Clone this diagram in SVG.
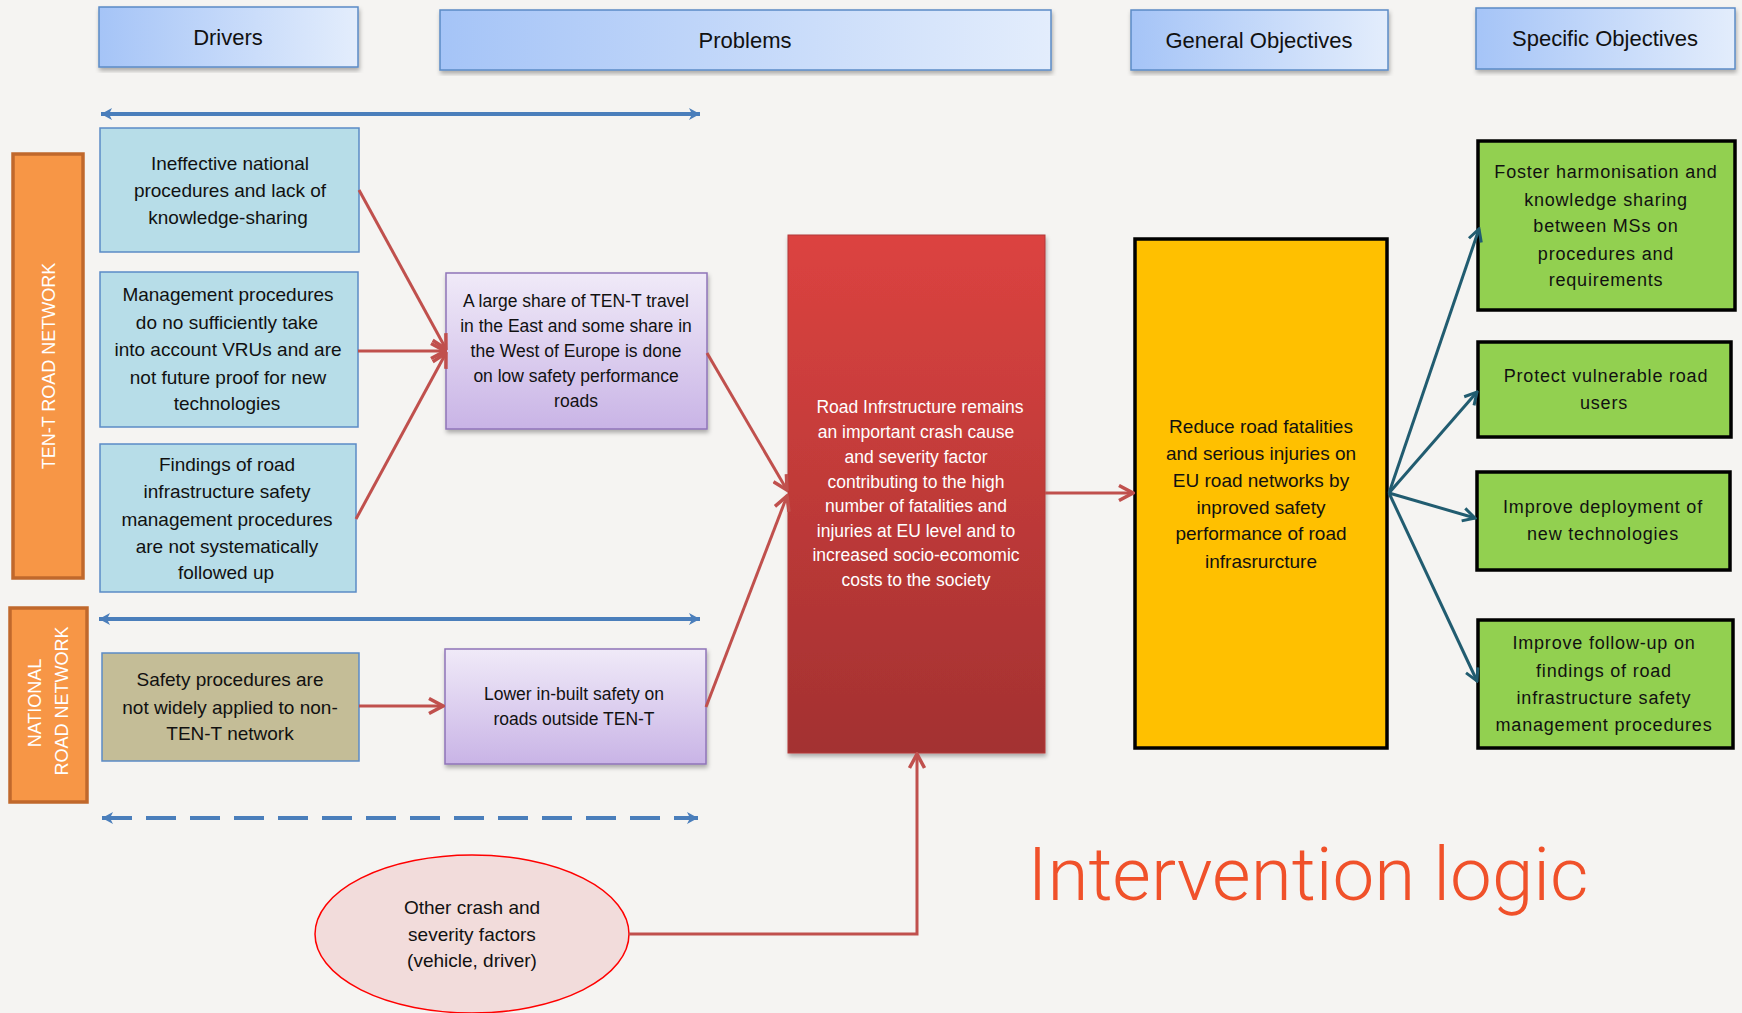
<svg xmlns="http://www.w3.org/2000/svg" width="1742" height="1013" viewBox="0 0 1742 1013">
<defs>
<style>
text{font-family:"Liberation Sans",Arial,sans-serif;text-anchor:middle;fill:#111}
.hdr{font-size:22px}
.drv{font-size:19px}
.prb{font-size:17.5px}
.red{font-size:17.5px;fill:#fff}
.yel{font-size:19px}
.grn{font-size:18px;letter-spacing:0.8px}
.vert{font-size:18px;fill:#fff}
.title{font-family:Roboto,"Liberation Sans",sans-serif;font-weight:300;font-size:74px;fill:#F0512A}
.hbox{fill:url(#gHdr);stroke:#5B8BC6;stroke-width:1.5;filter:url(#sh)}
.dbox{fill:#B7DDE8;stroke:#5B8BC6;stroke-width:1.5}
.pbox{fill:url(#gPur);stroke:#8F74B8;stroke-width:1.5;filter:url(#sh)}
.gbox{fill:#92D050;stroke:#000;stroke-width:3.5}
.obox{fill:#F79646;stroke:#C0682C;stroke-width:3.5}
.rc{fill:none;stroke:#C0504D;stroke-width:3}
.tc{fill:none;stroke:#215C70;stroke-width:3}
.bc{fill:none;stroke:#4A7EBB;stroke-width:4}
</style>
<linearGradient id="gHdr" x1="0" y1="0" x2="1" y2="0">
<stop offset="0" stop-color="#A5C4F7"/><stop offset="1" stop-color="#E3EDFC"/>
</linearGradient>
<linearGradient id="gPur" x1="0" y1="0" x2="0" y2="1">
<stop offset="0" stop-color="#F0EAF8"/><stop offset="1" stop-color="#C9B4E6"/>
</linearGradient>
<linearGradient id="gRed" x1="0" y1="0" x2="0" y2="1">
<stop offset="0" stop-color="#DC4340"/><stop offset="1" stop-color="#A33131"/>
</linearGradient>
<filter id="sh" x="-10%" y="-10%" width="120%" height="120%">
<feDropShadow dx="1" dy="3" stdDeviation="2" flood-color="#000" flood-opacity="0.3"/>
</filter>
<marker id="mR" viewBox="0 0 18 18" refX="16" refY="9" markerWidth="18" markerHeight="18" markerUnits="userSpaceOnUse" orient="auto">
<path d="M2,1.5 L16,9 L2,16.5" fill="none" stroke="#C0504D" stroke-width="3.5"/>
</marker>
<marker id="mT" viewBox="0 0 16 16" refX="14" refY="8" markerWidth="16" markerHeight="16" markerUnits="userSpaceOnUse" orient="auto">
<path d="M2,1.5 L14,8 L2,14.5" fill="none" stroke="#215C70" stroke-width="3"/>
</marker>
<marker id="mB" viewBox="0 0 12 12" refX="11" refY="6" markerWidth="12" markerHeight="12" markerUnits="userSpaceOnUse" orient="auto-start-reverse">
<path d="M0,0 L11,6 L0,12 L3,6 Z" fill="#4A7EBB"/>
</marker>
</defs>
<rect width="1742" height="1013" fill="#F5F4F2"/>

<g id="hdr-drivers"><rect class="hbox" x="99" y="7" width="259" height="60"/><text class="hdr" x="228" y="45">Drivers</text></g>
<g id="hdr-problems"><rect class="hbox" x="440" y="10" width="611" height="60"/><text class="hdr" x="745" y="48">Problems</text></g>
<g id="hdr-general"><rect class="hbox" x="1131" y="10" width="257" height="60"/><text class="hdr" x="1259" y="48">General Objectives</text></g>
<g id="hdr-specific"><rect class="hbox" x="1476" y="8" width="259" height="61"/><text class="hdr" x="1605" y="46">Specific Objectives</text></g>

<g id="lbl-tent"><rect class="obox" x="13" y="154" width="70" height="424"/><text class="vert" transform="translate(55,366) rotate(-90)">TEN-T ROAD NETWORK</text></g>
<g id="lbl-national"><rect class="obox" x="10" y="608" width="77" height="194"/><text class="vert" transform="translate(41,703) rotate(-90)">NATIONAL</text><text class="vert" transform="translate(68,701) rotate(-90)">ROAD NETWORK</text></g>

<g id="drv1"><rect class="dbox" x="100" y="128" width="259" height="124"/>
<text class="drv" x="230" y="170">Ineffective national</text><text class="drv" x="230" y="197">procedures  and lack of</text><text class="drv" x="228" y="224">knowledge-sharing</text></g>
<g id="drv2"><rect class="dbox" x="100" y="272" width="258" height="155"/>
<text class="drv" x="228" y="301">Management  procedures</text><text class="drv" x="227" y="329">do no sufficiently take</text><text class="drv" x="228" y="356">into account  VRUs and are</text><text class="drv" x="228" y="384">not  future  proof  for  new</text><text class="drv" x="227" y="410">technologies</text></g>
<g id="drv3"><rect class="dbox" x="100" y="444" width="256" height="148"/>
<text class="drv" x="227" y="471">Findings of road</text><text class="drv" x="227" y="498">infrastructure  safety</text><text class="drv" x="227" y="526">management  procedures</text><text class="drv" x="227" y="553">are not  systematically</text><text class="drv" x="226" y="579">followed up</text></g>
<g id="drv4"><rect x="102" y="653" width="257" height="108" fill="#C4BD97" stroke="#5B8BC6" stroke-width="1.5"/>
<text class="drv" x="230" y="686">Safety procedures   are</text><text class="drv" x="230" y="714">not  widely applied to non-</text><text class="drv" x="230" y="740">TEN-T network</text></g>

<g id="prb1"><rect class="pbox" x="446" y="273" width="261" height="156"/>
<text class="prb" x="576" y="307">A large share of TEN-T travel</text><text class="prb" x="576" y="332">in the East and some share in</text><text class="prb" x="576" y="357">the West of Europe is done</text><text class="prb" x="576" y="382">on low safety performance</text><text class="prb" x="576" y="407">roads</text></g>
<g id="prb2"><rect class="pbox" x="445" y="649" width="261" height="115"/>
<text class="prb" x="574" y="700">Lower in-built safety on</text><text class="prb" x="574" y="725">roads outside TEN-T</text></g>

<g id="core"><rect x="788" y="235" width="257" height="518" fill="url(#gRed)" stroke="#B23A38" stroke-width="1" filter="url(#sh)"/>
<text class="red" x="920" y="413">Road Infrstructure remains</text><text class="red" x="916" y="438">an important crash cause</text><text class="red" x="916" y="463">and severity factor</text><text class="red" x="916" y="488">contributing to the high</text><text class="red" x="916" y="512">number of fatalities and</text><text class="red" x="916" y="537">injuries  at EU level and to</text><text class="red" x="916" y="561">increased socio-ecomomic</text><text class="red" x="916" y="586">costs to the society</text></g>

<g id="general"><rect x="1135" y="239" width="252" height="509" fill="#FFC000" stroke="#000" stroke-width="3.5"/>
<text class="yel" x="1261" y="433">Reduce road  fatalities</text><text class="yel" x="1261" y="460">and serious injuries  on</text><text class="yel" x="1261" y="487">EU road networks  by</text><text class="yel" x="1261" y="514">inproved  safety</text><text class="yel" x="1261" y="540">performance  of road</text><text class="yel" x="1261" y="568">infrasrurcture</text></g>

<g id="so1"><rect class="gbox" x="1478" y="141" width="257" height="169"/>
<text class="grn" x="1606" y="178">Foster harmonisation and</text><text class="grn" x="1606" y="206">knowledge sharing</text><text class="grn" x="1606" y="232">between MSs on</text><text class="grn" x="1606" y="260">procedures and</text><text class="grn" x="1606" y="286">requirements</text></g>
<g id="so2"><rect class="gbox" x="1478" y="342" width="253" height="95"/>
<text class="grn" x="1606" y="382">Protect vulnerable road</text><text class="grn" x="1604" y="409">users</text></g>
<g id="so3"><rect class="gbox" x="1477" y="472" width="253" height="98"/>
<text class="grn" x="1603" y="513">Improve deployment of</text><text class="grn" x="1603" y="540">new technologies</text></g>
<g id="so4"><rect class="gbox" x="1478" y="620" width="255" height="128"/>
<text class="grn" x="1604" y="649">Improve follow-up on</text><text class="grn" x="1604" y="677">findings of road</text><text class="grn" x="1604" y="704">infrastructure safety</text><text class="grn" x="1604" y="731">management procedures</text></g>

<g id="other"><ellipse cx="472" cy="934" rx="157" ry="79" fill="#F2DCDB" stroke="#FF0000" stroke-width="1.5"/>
<text class="drv" x="472" y="914">Other crash and</text><text class="drv" x="472" y="941">severity factors</text><text class="drv" x="472" y="967">(vehicle, driver)</text></g>

<text class="title" x="1308" y="900" textLength="561" lengthAdjust="spacingAndGlyphs">Intervention logic</text>

<g id="connectors">
<line class="bc" x1="101" y1="114" x2="700" y2="114" marker-start="url(#mB)" marker-end="url(#mB)"/>
<line class="bc" x1="99" y1="619" x2="700" y2="619" marker-start="url(#mB)" marker-end="url(#mB)"/>
<line class="bc" x1="102" y1="818" x2="698" y2="818" stroke-dasharray="30,14" marker-start="url(#mB)" marker-end="url(#mB)"/>
<line class="rc" x1="359" y1="190" x2="446" y2="349" marker-end="url(#mR)"/>
<line class="rc" x1="358" y1="351" x2="445" y2="351" marker-end="url(#mR)"/>
<line class="rc" x1="356" y1="519" x2="446" y2="353" marker-end="url(#mR)"/>
<line class="rc" x1="359" y1="706" x2="443" y2="706" marker-end="url(#mR)"/>
<line class="rc" x1="707" y1="353" x2="787" y2="490" marker-end="url(#mR)"/>
<line class="rc" x1="706" y1="707" x2="787" y2="496" marker-end="url(#mR)"/>
<line class="rc" x1="1045" y1="493" x2="1133" y2="493" marker-end="url(#mR)"/>
<polyline class="rc" points="629,934 917,934 917,754" marker-end="url(#mR)"/>
<line class="tc" x1="1389" y1="493" x2="1479" y2="229" marker-end="url(#mT)"/>
<line class="tc" x1="1389" y1="493" x2="1477" y2="392" marker-end="url(#mT)"/>
<line class="tc" x1="1389" y1="493" x2="1475" y2="518" marker-end="url(#mT)"/>
<line class="tc" x1="1389" y1="493" x2="1477" y2="681" marker-end="url(#mT)"/>
</g>
</svg>
